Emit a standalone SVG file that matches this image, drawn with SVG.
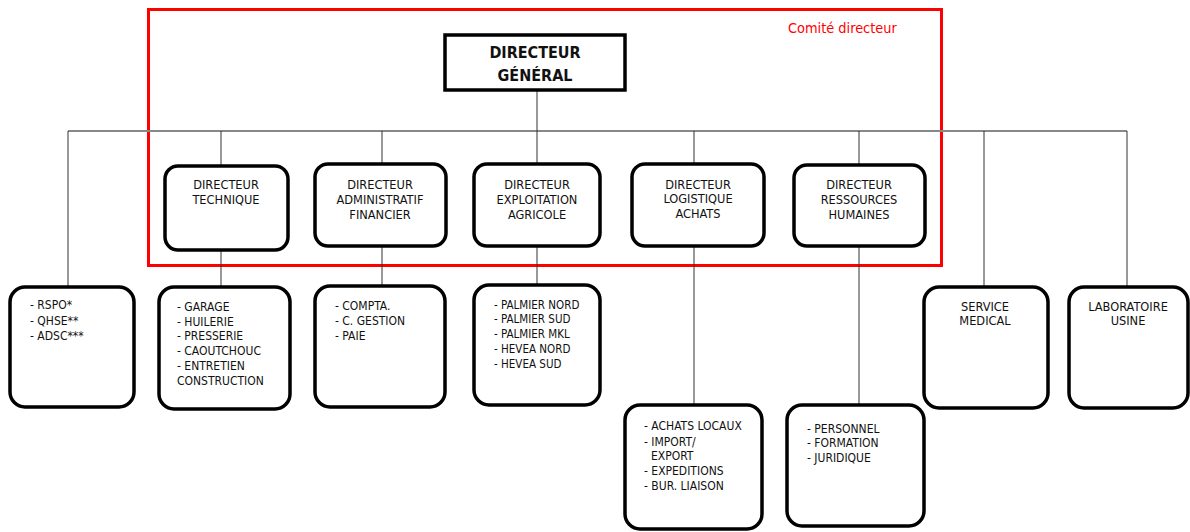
<svg xmlns="http://www.w3.org/2000/svg" width="1190" height="532" viewBox="0 0 1190 532">
<style>
text{font-family:"DejaVu Sans Condensed","DejaVu Sans",sans-serif;fill:#111}
.box{fill:#fff;stroke:#000;stroke-width:3.5}
.t{font-size:12.7px;text-anchor:middle}
.l{font-size:12px}
.s{font-size:11.5px}
.dg{font-size:16px;font-weight:bold;text-anchor:middle}
.c{stroke:#333;stroke-width:1;fill:none}
.h{stroke:#888;stroke-width:2;fill:none}
</style>
<g id="comite">
<rect x="148.5" y="9.5" width="793" height="256" fill="none" stroke="#f00" stroke-width="3"/>
<text x="788" y="33" style="fill:#f00;font-size:14.4px">Comité directeur</text>
</g>
<g id="connectors">
<line class="h" x1="68" y1="131" x2="1127" y2="131"/>
<line class="c" x1="537" y1="90" x2="537" y2="164"/>
<line class="c" x1="68" y1="131" x2="68" y2="287"/>
<line class="c" x1="221" y1="131" x2="221" y2="166"/>
<line class="c" x1="382" y1="131" x2="382" y2="164"/>
<line class="c" x1="694" y1="131" x2="694" y2="164"/>
<line class="c" x1="859" y1="131" x2="859" y2="165"/>
<line class="c" x1="984" y1="131" x2="984" y2="287"/>
<line class="c" x1="1127" y1="131" x2="1127" y2="287"/>
<line class="c" x1="221" y1="250" x2="221" y2="287"/>
<line class="c" x1="382" y1="246" x2="382" y2="286"/>
<line class="c" x1="537" y1="246" x2="537" y2="285"/>
<line class="c" x1="694" y1="246" x2="694" y2="405"/>
<line class="c" x1="859" y1="246" x2="859" y2="405"/>
</g>
<g id="dg">
<rect class="box" x="445" y="35" width="180" height="55"/>
<text class="dg" x="535" y="58">DIRECTEUR</text>
<text class="dg" x="535" y="81">GÉNÉRAL</text>
</g>
<g id="dir-technique">
<rect class="box" x="165" y="166" width="123" height="84" rx="13"/>
<text class="t" x="226" y="189">DIRECTEUR</text>
<text class="t" x="226" y="204">TECHNIQUE</text>
</g>
<g id="dir-admin">
<rect class="box" x="315" y="164" width="131" height="82" rx="13"/>
<text class="t" x="380" y="189">DIRECTEUR</text>
<text class="t" x="380" y="204">ADMINISTRATIF</text>
<text class="t" x="380" y="219">FINANCIER</text>
</g>
<g id="dir-exploitation">
<rect class="box" x="474" y="164" width="126" height="82" rx="13"/>
<text class="t" x="537" y="189">DIRECTEUR</text>
<text class="t" x="537" y="204">EXPLOITATION</text>
<text class="t" x="537" y="219">AGRICOLE</text>
</g>
<g id="dir-logistique">
<rect class="box" x="632" y="164" width="132" height="82" rx="13"/>
<text class="t" x="698" y="189">DIRECTEUR</text>
<text class="t" x="698" y="203">LOGISTIQUE</text>
<text class="t" x="698" y="218">ACHATS</text>
</g>
<g id="dir-rh">
<rect class="box" x="794" y="165" width="131" height="81" rx="13"/>
<text class="t" x="859" y="189">DIRECTEUR</text>
<text class="t" x="859" y="204">RESSOURCES</text>
<text class="t" x="859" y="219">HUMAINES</text>
</g>
<g id="rspo">
<rect class="box" x="10" y="287" width="124" height="120" rx="15"/>
<text class="l" x="30" y="309">- RSPO*</text>
<text class="l" x="30" y="325">- QHSE**</text>
<text class="l" x="30" y="340">- ADSC***</text>
</g>
<g id="technique-services">
<rect class="box" x="159" y="287" width="131" height="122" rx="15"/>
<text class="l" x="177" y="311">- GARAGE</text>
<text class="l" x="177" y="325.7">- HUILERIE</text>
<text class="l" x="177" y="340.4">- PRESSERIE</text>
<text class="l" x="177" y="355.1">- CAOUTCHOUC</text>
<text class="l" x="177" y="369.8">- ENTRETIEN</text>
<text class="l" x="177" y="384.5">CONSTRUCTION</text>
</g>
<g id="admin-services">
<rect class="box" x="315" y="286" width="130" height="121" rx="15"/>
<text class="l" x="335" y="309.5">- COMPTA.</text>
<text class="l" x="335" y="324.5">- C. GESTION</text>
<text class="l" x="335" y="339.5">- PAIE</text>
</g>
<g id="exploitation-services">
<rect class="box" x="474" y="285" width="126" height="120" rx="15"/>
<text class="s" x="494" y="308.5">- PALMIER NORD</text>
<text class="s" x="494" y="323.3">- PALMIER SUD</text>
<text class="s" x="494" y="338.1">- PALMIER MKL</text>
<text class="s" x="494" y="352.9">- HEVEA NORD</text>
<text class="s" x="494" y="367.7">- HEVEA SUD</text>
</g>
<g id="logistique-services">
<rect class="box" x="625" y="405" width="137" height="124" rx="15"/>
<text class="l" x="644" y="430">- ACHATS LOCAUX</text>
<text class="l" x="644" y="445.7">- IMPORT/</text>
<text class="l" x="651" y="460">EXPORT</text>
<text class="l" x="644" y="474.7">- EXPEDITIONS</text>
<text class="l" x="644" y="489.7">- BUR. LIAISON</text>
</g>
<g id="rh-services">
<rect class="box" x="787" y="405" width="137" height="121" rx="15"/>
<text class="l" x="807" y="432.7">- PERSONNEL</text>
<text class="l" x="807" y="447.3">- FORMATION</text>
<text class="l" x="807" y="461.7">- JURIDIQUE</text>
</g>
<g id="service-medical">
<rect class="box" x="924" y="287" width="124" height="121" rx="15"/>
<text class="t" x="985" y="311">SERVICE</text>
<text class="t" x="985" y="325">MEDICAL</text>
</g>
<g id="laboratoire">
<rect class="box" x="1069" y="287" width="119" height="121" rx="15"/>
<text class="t" x="1128" y="311">LABORATOIRE</text>
<text class="t" x="1128" y="325">USINE</text>
</g>
</svg>
